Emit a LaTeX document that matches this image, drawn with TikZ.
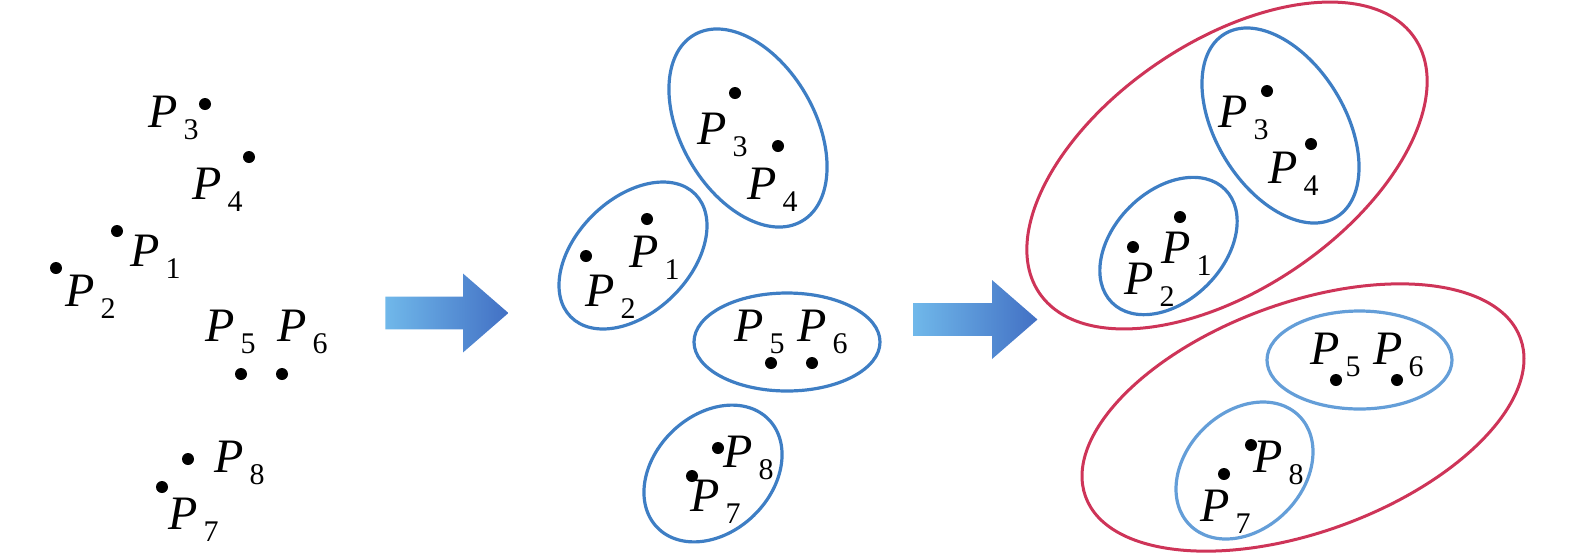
\documentclass[tikz,border=0pt]{standalone}
\usepackage{fontspec}
\setmainfont{Liberation Serif}
\usetikzlibrary{shapes.arrows}

\definecolor{grpblue}{RGB}{62,126,196}
\definecolor{grplight}{RGB}{100,158,216}
\definecolor{clured}{RGB}{206,52,88}
\definecolor{arrlight}{RGB}{112,184,234}
\definecolor{arrdark}{RGB}{66,112,196}

\newcommand{\subsz}{\fontsize{15}{15}\selectfont}
\newcommand{\plbl}[1]{\textit{P}\kern3pt\raisebox{-6pt}{\subsz #1}}

\tikzset{
	dot/.style={circle,fill=black,inner sep=0pt,minimum size=6pt},
	lbl/.style={anchor=base west,inner sep=0pt,font=\fontsize{24}{28}\selectfont},
	grp/.style={draw=grpblue,line width=1.6pt},
	grplt/.style={draw=grplight,line width=1.6pt},
	clu/.style={draw=clured,line width=1.5pt},
	bigarrow/.style={single arrow,draw=none,left color=arrlight,right color=arrdark,
		inner xsep=0pt,inner ysep=8pt,minimum height=61.5pt,minimum width=39pt,
		single arrow head extend=11.5pt,single arrow tip angle=82}
}

\begin{document}
\begin{tikzpicture}[x=0.5pt,y=-0.5pt]
	\useasboundingbox (0,0) rectangle (1575,559);
	
	% scattered points
	\node[dot] (a1) at (117,231) {};
	\node[dot] (a2) at (56,268) {};
	\node[dot] (a3) at (205,104) {};
	\node[dot] (a4) at (249,157) {};
	\node[dot] (a5) at (241,374) {};
	\node[dot] (a6) at (282,374) {};
	\node[dot] (a7) at (162,487) {};
	\node[dot] (a8) at (188,459) {};
	
	\node[lbl] (la1) at (130,266) {\plbl{1}};
	\node[lbl] (la2) at (65,306) {\plbl{2}};
	\node[lbl] (la3) at (148,127) {\plbl{3}};
	\node[lbl] (la4) at (192,199) {\plbl{4}};
	\node[lbl] (la5) at (205,341) {\plbl{5}};
	\node[lbl] (la6) at (277,341) {\plbl{6}};
	\node[lbl] (la7) at (168,529) {\plbl{7}};
	\node[lbl] (la8) at (214,472) {\plbl{8}};
	
	\node[bigarrow] (ar1) at (437.5,313) {};
	
	% first grouping
	\draw[grp,rotate around={-60:(748,128)}] (748,128) ellipse [x radius=107.6,y radius=66.9];
	\draw[grp,rotate around={44.5:(633,255.5)}] (633,255.5) ellipse [x radius=87.4,y radius=56.9];
	\draw[grp] (787,342) ellipse [x radius=93,y radius=49];
	\draw[grp,rotate around={44:(713,473.5)}] (713,473.5) ellipse [x radius=77.6,y radius=58.5];
	
	\node[dot] (b1) at (647,219) {};
	\node[dot] (b2) at (586,256) {};
	\node[dot] (b3) at (735,93) {};
	\node[dot] (b4) at (778,146) {};
	\node[dot] (b5) at (771,363) {};
	\node[dot] (b6) at (812,363) {};
	\node[dot] (b7) at (692,476) {};
	\node[dot] (b8) at (718,448) {};
	
	\node[lbl] (lb1) at (629,267) {\plbl{1}};
	\node[lbl] (lb2) at (585,306) {\plbl{2}};
	\node[lbl] (lb3) at (697,144) {\plbl{3}};
	\node[lbl] (lb4) at (747,199) {\plbl{4}};
	\node[lbl] (lb5) at (734,341) {\plbl{5}};
	\node[lbl] (lb6) at (797,341) {\plbl{6}};
	\node[lbl] (lb7) at (690,511) {\plbl{7}};
	\node[lbl] (lb8) at (723,467) {\plbl{8}};
	
	\node[bigarrow,minimum height=62pt,minimum width=39.5pt] (ar2) at (966,319.5) {};
	
	% second grouping
	\draw[clu,rotate around={34.2:(1227,165.5)}] (1227,165.5) ellipse [x radius=226.9,y radius=123.6];
	\draw[clu,rotate around={20:(1303,417.5)}] (1303,417.5) ellipse [x radius=231.4,y radius=114.6];
	\draw[grp,rotate around={-58.5:(1280.5,125.5)}] (1280.5,125.5) ellipse [x radius=107.3,y radius=64.5];
	\draw[grp,rotate around={45:(1168.5,246)}] (1168.5,246) ellipse [x radius=80,y radius=55];
	\draw[grplt] (1359.5,360) ellipse [x radius=92.5,y radius=49];
	\draw[grplt,rotate around={45:(1244.5,470.5)}] (1244.5,470.5) ellipse [x radius=77.2,y radius=58.5];
	
	\node[dot] (c1) at (1180,217) {};
	\node[dot] (c2) at (1133,247) {};
	\node[dot] (c3) at (1267,91) {};
	\node[dot] (c4) at (1311,144) {};
	\node[dot] (c5) at (1336,380) {};
	\node[dot] (c6) at (1397,380) {};
	\node[dot] (c7) at (1224,474) {};
	\node[dot] (c8) at (1251,445) {};
	
	\node[lbl] (lc1) at (1161,263) {\plbl{1}};
	\node[lbl] (lc2) at (1124,294) {\plbl{2}};
	\node[lbl] (lc3) at (1218,127) {\plbl{3}};
	\node[lbl] (lc4) at (1268,183) {\plbl{4}};
	\node[lbl] (lc5) at (1310,364) {\plbl{5}};
	\node[lbl] (lc6) at (1373,364) {\plbl{6}};
	\node[lbl] (lc7) at (1200,521) {\plbl{7}};
	\node[lbl] (lc8) at (1253,472) {\plbl{8}};
\end{tikzpicture}
\end{document}
